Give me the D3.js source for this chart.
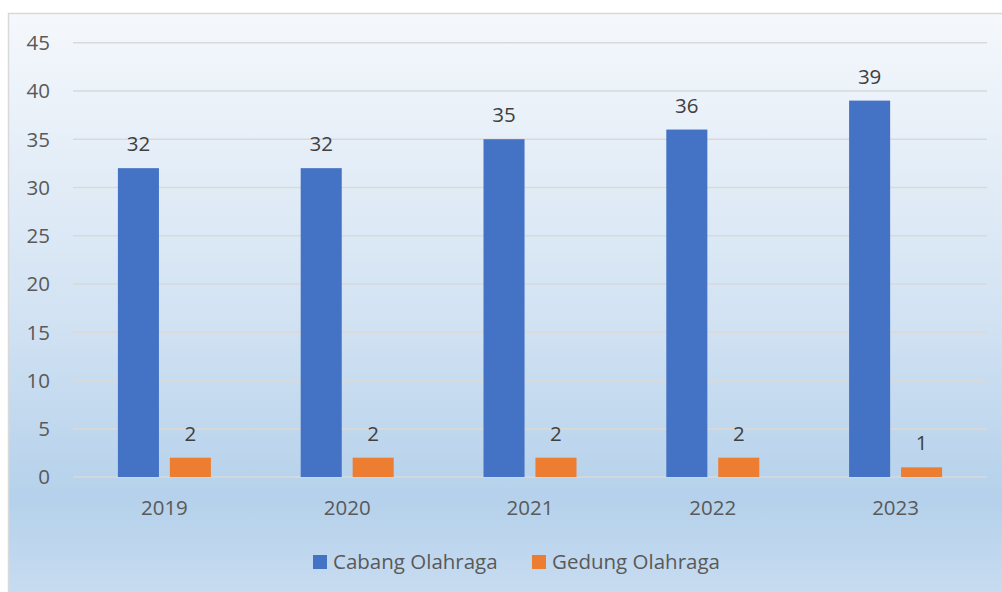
<!DOCTYPE html>
<html>
<head>
<meta charset="utf-8">
<script src="https://cdn.jsdelivr.net/npm/d3@7"></script>
<style>
  body { margin: 0; background: #fff; }
  text { font-family: "Open Sans", "Noto Sans", sans-serif; }
</style>
</head>
<body>
<script>
let width = 1002;
let height = 592;

// data
let years = ["2019", "2020", "2021", "2022", "2023"];
let seriesNames = ["Cabang Olahraga", "Gedung Olahraga"];
let cabang = [32, 32, 35, 36, 39];
let gedung = [2, 2, 2, 2, 1];
let yTicks = [0, 5, 10, 15, 20, 25, 30, 35, 40, 45];
let colors = ["#4472C4", "#ED7D31"];

let plot = { left: 73, right: 987, top: 42.7, bottom: 477 };
let fontSize = "20.5px";

let svg = d3.select("body").append("svg")
	.attr("width", width)
	.attr("height", height);

// background gradient
let grad = svg.append("defs").append("linearGradient")
	.attr("id", "bg")
	.attr("x1", 0).attr("y1", 0)
	.attr("x2", 0).attr("y2", 1);
grad.append("stop").attr("offset", "0%").attr("stop-color", "#F5F8FC");
grad.append("stop").attr("offset", "50%").attr("stop-color", "#D3E3F3");
grad.append("stop").attr("offset", "82%").attr("stop-color", "#B5D1EB");
grad.append("stop").attr("offset", "100%").attr("stop-color", "#C9DDF1");

svg.append("rect")
	.attr("x", 8.5)
	.attr("y", 13.5)
	.attr("width", width)
	.attr("height", height)
	.attr("fill", "url(#bg)")
	.attr("stroke", "#D9D9D9")
	.attr("stroke-width", 1.5);

let y = d3.scaleLinear()
	.domain([0, 45])
	.range([plot.bottom, plot.top]);

let x0 = d3.scaleBand()
	.domain(years)
	.range([plot.left, plot.right])
	.padding(0);

let groupW = 93;
let x1 = d3.scaleBand()
	.domain(seriesNames)
	.range([-groupW / 2, groupW / 2])
	.paddingInner(0.21)
	.paddingOuter(0);

// gridlines
svg.append("g")
	.selectAll("line")
	.data(yTicks)
	.enter()
	.append("line")
	.attr("x1", plot.left)
	.attr("x2", plot.right)
	.attr("y1", d => y(d))
	.attr("y2", d => y(d))
	.attr("stroke", "#D9D9D9")
	.attr("stroke-width", 1.5);

// y tick labels
svg.append("g")
	.selectAll("text")
	.data(yTicks)
	.enter()
	.append("text")
	.attr("x", 50)
	.attr("y", d => y(d))
	.attr("dy", "0.36em")
	.attr("text-anchor", "end")
	.attr("fill", "#595959")
	.style("font-size", fontSize)
	.text(d => d);

// x labels
svg.append("g")
	.selectAll("text")
	.data(years)
	.enter()
	.append("text")
	.attr("x", d => x0(d) + x0.bandwidth() / 2)
	.attr("y", 515)
	.attr("text-anchor", "middle")
	.attr("fill", "#595959")
	.style("font-size", fontSize)
	.text(d => d);

let rows = [];
years.forEach((yr, i) => {
	rows.push({ year: yr, s: 0, v: cabang[i] });
	rows.push({ year: yr, s: 1, v: gedung[i] });
});

let cx = d => x0(d.year) + x0.bandwidth() / 2 + x1(seriesNames[d.s]);

svg.append("g")
	.selectAll("rect")
	.data(rows)
	.enter()
	.append("rect")
	.attr("x", cx)
	.attr("y", d => y(d.v))
	.attr("width", x1.bandwidth())
	.attr("height", d => y(0) - y(d.v))
	.attr("fill", d => colors[d.s]);

// value labels
svg.append("g")
	.selectAll("text")
	.data(rows)
	.enter()
	.append("text")
	.attr("x", d => cx(d) + x1.bandwidth() / 2)
	.attr("y", d => y(d.v) - 17)
	.attr("text-anchor", "middle")
	.attr("fill", "#404040")
	.style("font-size", fontSize)
	.text(d => d.v);

// legend
let legendX = [313, 532];
let legend = svg.append("g")
	.selectAll("g")
	.data(seriesNames)
	.enter()
	.append("g")
	.attr("transform", (d, i) => `translate(${legendX[i]},555)`);

legend.append("rect")
	.attr("width", 14)
	.attr("height", 14)
	.attr("fill", (d, i) => colors[i]);

legend.append("text")
	.attr("x", 20)
	.attr("y", 14)
	.attr("fill", "#595959")
	.style("font-size", fontSize)
	.text(d => d);
</script>
</body>
</html>
